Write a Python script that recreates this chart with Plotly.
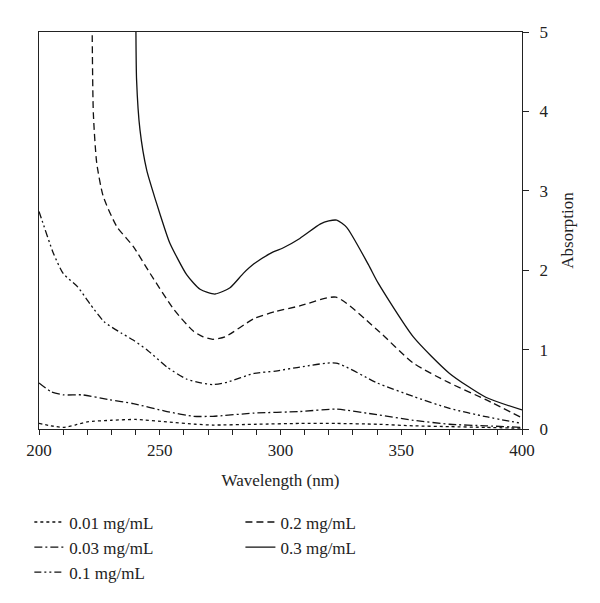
import plotly.graph_objects as go

wl_001 = [200, 205, 210, 215, 220, 230, 240, 253, 265, 272, 290, 308, 323, 340, 355, 370, 385, 400]
ab_001 = [0.07, 0.04, 0.02, 0.05, 0.09, 0.11, 0.12, 0.09, 0.06, 0.05, 0.06, 0.07, 0.07, 0.06, 0.04, 0.03, 0.02, 0.01]

wl_003 = [200, 205, 210, 218, 229, 239, 253, 264, 272, 289, 308, 323, 340, 355, 370, 385, 400]
ab_003 = [0.58, 0.47, 0.43, 0.43, 0.37, 0.32, 0.22, 0.16, 0.16, 0.20, 0.22, 0.25, 0.18, 0.11, 0.06, 0.04, 0.02]

wl_01 = [200, 201, 206, 210, 216, 221, 227, 234, 239, 245, 253, 261, 267, 272, 278, 289, 298, 308, 323, 340, 355, 370, 385, 400]
ab_01 = [2.74, 2.65, 2.21, 1.96, 1.79, 1.58, 1.35, 1.21, 1.12, 0.99, 0.78, 0.63, 0.58, 0.56, 0.59, 0.70, 0.73, 0.78, 0.83, 0.58, 0.41, 0.26, 0.155, 0.07]

wl_02 = [222.0, 222.5, 223.9, 226.6, 232.2, 239, 246, 256, 264, 268, 272, 277, 289, 298, 308, 323, 340, 355, 370, 385, 400]
ab_02 = [5.1, 3.98, 3.35, 2.93, 2.55, 2.30, 1.96, 1.50, 1.23, 1.16, 1.13, 1.16, 1.39, 1.48, 1.55, 1.66, 1.25, 0.83, 0.58, 0.37, 0.14]

wl_03 = [240.1, 240.4, 241.8, 244.6, 248.5, 252.2, 254.2, 261.2, 266.7, 272.9, 279.1, 284.6, 289, 297, 301, 308, 316.4, 320, 323.3, 327.4, 336.4, 340.4, 355, 370, 385, 400]
ab_03 = [5.2, 4.40, 3.77, 3.26, 2.86, 2.51, 2.34, 1.94, 1.76, 1.70, 1.78, 1.96, 2.08, 2.23, 2.28, 2.40, 2.58, 2.62, 2.63, 2.54, 2.07, 1.84, 1.16, 0.70, 0.40, 0.24]

labels = ["0.01 mg/mL", "0.03 mg/mL", "0.1 mg/mL", "0.2 mg/mL", "0.3 mg/mL"]
xticks = list(range(200, 401, 10))
xtext = [str(v) if v % 50 == 0 else "" for v in xticks]

FONT = "Liberation Serif, DejaVu Serif, serif"
series = [
    (wl_001, ab_001, labels[0], "dot", "legend"),
    (wl_003, ab_003, labels[1], "8px,3px,2px,3px", "legend"),
    (wl_01, ab_01, labels[2], "7px,3px,2px,3px,2px,3px", "legend"),
    (wl_02, ab_02, labels[3], "7px,4px", "legend2"),
    (wl_03, ab_03, labels[4], "solid", "legend2"),
]

fig = go.Figure()
for x, y, name, dash, lg in series:
    fig.add_trace(go.Scatter(x=x, y=y, name=name, mode="lines", legend=lg,
                             line=dict(color="#111", width=1.3, dash=dash, shape="spline", smoothing=0.6)))

fig.update_layout(
    width=600, height=603,
    margin=dict(l=31, r=86, t=24, b=182),
    paper_bgcolor="white", plot_bgcolor="white",
    font=dict(family=FONT, size=17, color="#222"),
    showlegend=True,
    legend=dict(x=-0.02, y=-0.19, xanchor="left", yanchor="top", orientation="v",
                font=dict(size=17), itemwidth=30, tracegroupgap=0, bgcolor="rgba(0,0,0,0)"),
    legend2=dict(x=0.417, y=-0.19, xanchor="left", yanchor="top", orientation="v",
                 font=dict(size=17), itemwidth=30, tracegroupgap=0, bgcolor="rgba(0,0,0,0)"),
)
fig.update_xaxes(range=[200, 400], tickvals=xticks, ticktext=xtext, ticks="outside", ticklen=5,
                 tickcolor="#222", showline=True, linecolor="#222", linewidth=1.3, mirror=True,
                 showgrid=False, zeroline=False, automargin=False,
                 title=dict(text="Wavelength (nm)", font=dict(size=17), standoff=15))
fig.update_yaxes(range=[0, 5], side="right", tickvals=[0, 1, 2, 3, 4, 5], ticks="outside", ticklen=6,
                 tickcolor="#222", showline=True, linecolor="#222", linewidth=1.3, mirror=True,
                 showgrid=False, zeroline=False, automargin=False, ticklabelstandoff=7,
                 title=dict(text="Absorption", font=dict(size=17), standoff=13))

fig.write_html("out.html")
